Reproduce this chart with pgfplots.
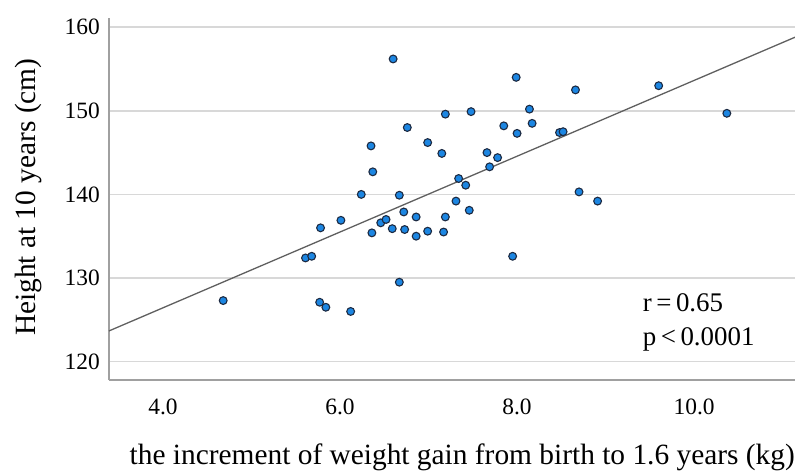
\documentclass[border=0pt]{standalone}
\usepackage{fontspec}
\setmainfont{Liberation Serif}
\usepackage{pgfplots}
\pgfplotsset{compat=1.18}
\definecolor{ptfill}{RGB}{28,134,226}
\definecolor{ptedge}{RGB}{28,42,66}
\definecolor{gridc}{RGB}{216,216,216}
\definecolor{spinec}{RGB}{160,160,160}
\definecolor{fitc}{RGB}{95,95,95}
\begin{document}
\begin{tikzpicture}
\begin{axis}[
  at={(0,0)}, anchor=south west,
  scale only axis,
  width=686bp, height=362bp,
  xmin=3.39, xmax=11.14,
  ymin=117.8, ymax=161.1,
  axis x line*=bottom, axis y line*=left,
  axis line style={color=spinec, line width=1.4bp, -},
  xtick={4,6,8,10},
  ytick={120,130,140,150,160},
  major tick length=0pt,
  ymajorgrids,
  grid style={color=gridc, line width=1.6bp},
  /pgf/number format/assume math mode=true,
  xticklabel style={/pgf/number format/fixed, /pgf/number format/fixed zerofill, /pgf/number format/precision=1,
    font=\fontsize{23.5}{26}\selectfont, anchor=north, inner sep=0pt, yshift=-19bp},
  yticklabel style={font=\fontsize{23.5}{26}\selectfont, anchor=east, inner sep=0pt, xshift=-9bp},
  xlabel={the increment of weight gain from birth to 1.6 years (kg)},
  ylabel={Height at 10 years (cm)},
  xlabel style={font=\fontsize{29.5}{34}\selectfont, at={(axis description cs:0.515,-0.213)}, anchor=center},
  ylabel style={font=\fontsize{29.5}{34}\selectfont, at={(axis description cs:-0.118,0.505)}, anchor=center},
  clip=false,
]
\addplot[color=fitc, line width=1.3bp] coordinates {(3.39,123.67) (11.14,158.8)};
\addplot[only marks, mark=*, mark size=3.9bp, mark options={fill=ptfill, draw=ptedge, line width=1.1bp}] coordinates {
(4.68,127.3) (5.61,132.4) (5.68,132.6) (5.78,136.0) (5.77,127.1) (5.84,126.5)
(6.01,136.9) (6.12,126.0) (6.24,140.0) (6.35,145.8) (6.37,142.7) (6.36,135.4)
(6.46,136.6) (6.52,137.0) (6.60,156.2) (6.59,135.9) (6.67,129.5) (6.67,139.9)
(6.72,137.9) (6.73,135.8) (6.76,148.0) (6.86,137.3) (6.86,135.0) (6.99,135.6)
(6.99,146.2) (7.15,144.9) (7.19,149.6) (7.19,137.3) (7.17,135.5) (7.31,139.2)
(7.34,141.9) (7.42,141.1) (7.48,149.9) (7.46,138.1) (7.66,145.0) (7.69,143.3)
(7.78,144.4) (7.85,148.2) (7.95,132.6) (7.99,154.0) (8.00,147.3) (8.14,150.2)
(8.17,148.5) (8.48,147.4) (8.52,147.5) (8.66,152.5) (8.70,140.3) (8.91,139.2)
(9.60,153.0) (10.37,149.7)
};
\node[anchor=west, align=left, inner sep=0pt, font=\fontsize{27}{34}\selectfont] at (axis cs:9.42,124.64) {r\,=\,0.65\\p\,<\,0.0001};
\end{axis}
\pgfresetboundingbox
\path (-109bp,-93bp) rectangle (686bp,380bp);
\end{tikzpicture}
\end{document}
